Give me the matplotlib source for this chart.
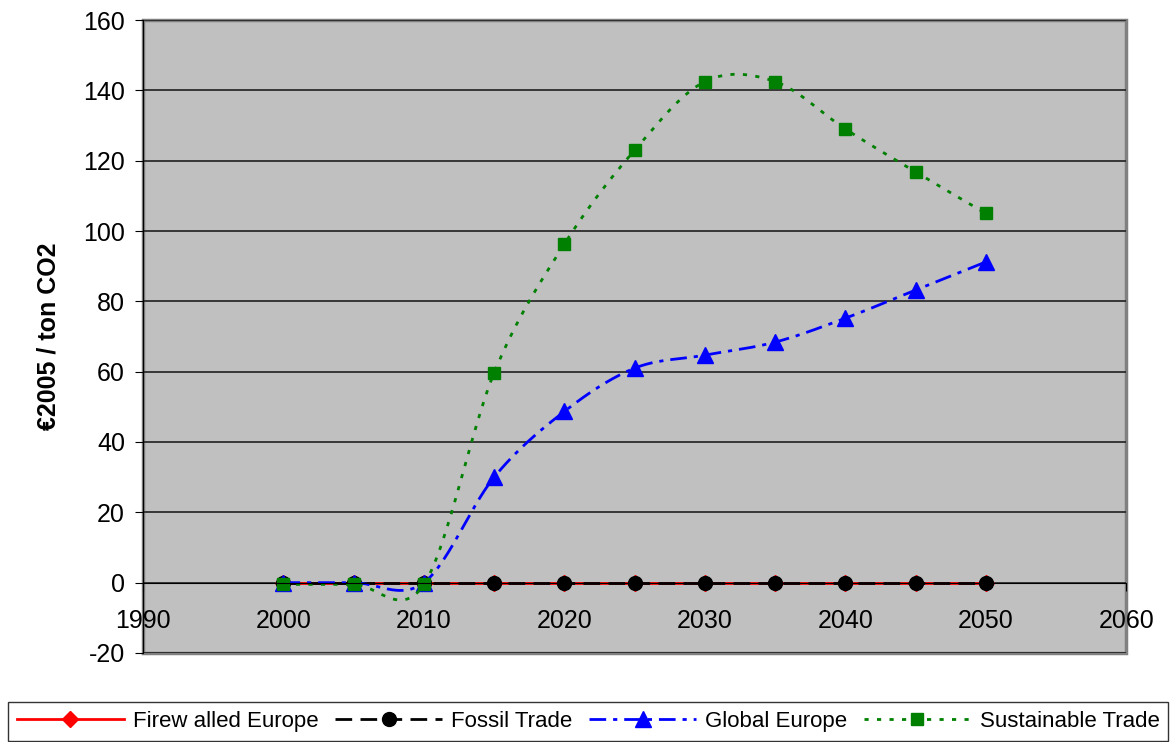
import numpy as np
import matplotlib.pyplot as plt
from matplotlib.patches import Rectangle

plt.rcParams['font.family'] = ['Liberation Sans', 'DejaVu Sans']
plt.rcParams['axes.unicode_minus'] = False

years = [2000, 2005, 2010, 2015, 2020, 2025, 2030, 2035, 2040, 2045, 2050]
firewalled = [0, 0, 0, 0, 0, 0, 0, 0, 0, 0, 0]
fossil = [0, 0, 0, 0, 0, 0, 0, 0, 0, 0, 0]
global_europe = [0, 0, 0, 30, 48.7, 61, 64.7, 68.4, 75.2, 83.2, 91.2]
sustainable = [-0.5, -0.5, -0.5, 59.7, 96.3, 123, 142.5, 142.5, 129, 116.8, 105]


def smooth(x, y, n=30):
    # excel-style smoothed line: bezier segments with catmull-rom control points
    p = np.column_stack([x, y]).astype(float)
    out = []
    for i in range(len(p) - 1):
        p0 = p[max(i - 1, 0)]
        p1 = p[i]
        p2 = p[i + 1]
        p3 = p[min(i + 2, len(p) - 1)]
        c1 = p1 + (p2 - p0) / 6
        c2 = p2 - (p3 - p1) / 6
        t = np.linspace(0, 1, n)[:, None]
        seg = (1 - t) ** 3 * p1 + 3 * (1 - t) ** 2 * t * c1 + 3 * (1 - t) * t ** 2 * c2 + t ** 3 * p2
        out.append(seg if i == 0 else seg[1:])
    out = np.vstack(out)
    return out[:, 0], out[:, 1]


fig = plt.figure(figsize=(11.72, 7.42), dpi=100)
ax = fig.add_axes([0.122, 0.12, 0.839, 0.853])
ax.set_facecolor('#c0c0c0')

series = [
    ('Firew alled Europe', firewalled, 'red', '-', 'D', 8),
    ('Fossil Trade', fossil, 'black', (0, (6, 3)), 'o', 10),
    ('Global Europe', global_europe, 'blue', (0, (6, 2.5, 1.5, 2.5)), '^', 12),
    ('Sustainable Trade', sustainable, 'green', (0, (1.5, 3)), 's', 9),
]

handles = []
for label, vals, col, ls, mk, ms in series:
    sx, sy = smooth(years, vals)
    ax.plot(sx, sy, color=col, linestyle=ls, lw=2)
    ax.plot(years, vals, linestyle='none', marker=mk, color=col, markersize=ms)
    h, = ax.plot([], [], color=col, linestyle=ls, lw=2, marker=mk, markersize=ms, label=label)
    handles.append(h)

ax.set_xlim(1990, 2060)
ax.set_ylim(-20, 160)
ax.set_yticks(range(-20, 161, 20))
ax.set_xticks(range(1990, 2061, 10))
ax.yaxis.grid(True, color='#202020', lw=1.2)
ax.set_axisbelow(True)

for s in ['top', 'right']:
    ax.spines[s].set_visible(False)
ax.spines['left'].set_color('black')
ax.spines['bottom'].set_position(('data', 0))
ax.spines['bottom'].set_color('black')
ax.add_patch(Rectangle((0, 0), 1, 1, transform=ax.transAxes, fill=False,
                       edgecolor='#808080', lw=2.5, zorder=0.5, clip_on=False))

ax.tick_params(axis='both', labelsize=18, direction='out', length=6, color='black')
ax.tick_params(axis='y', pad=7)
ax.tick_params(axis='x', pad=13)
ax.set_ylabel('€2005 / ton CO2', fontsize=18, fontweight='bold', labelpad=16)

leg = fig.legend(handles=handles, loc='center', ncol=4, mode='expand',
                 bbox_to_anchor=(0.007, -0.02, 0.99, 0.095),
                 fontsize=16, frameon=True, fancybox=False, edgecolor='black',
                 handlelength=4.8, handletextpad=0.4, columnspacing=0.8, borderaxespad=0)
leg.get_frame().set_linewidth(1.0)

fig.savefig('out.png', dpi=100)
